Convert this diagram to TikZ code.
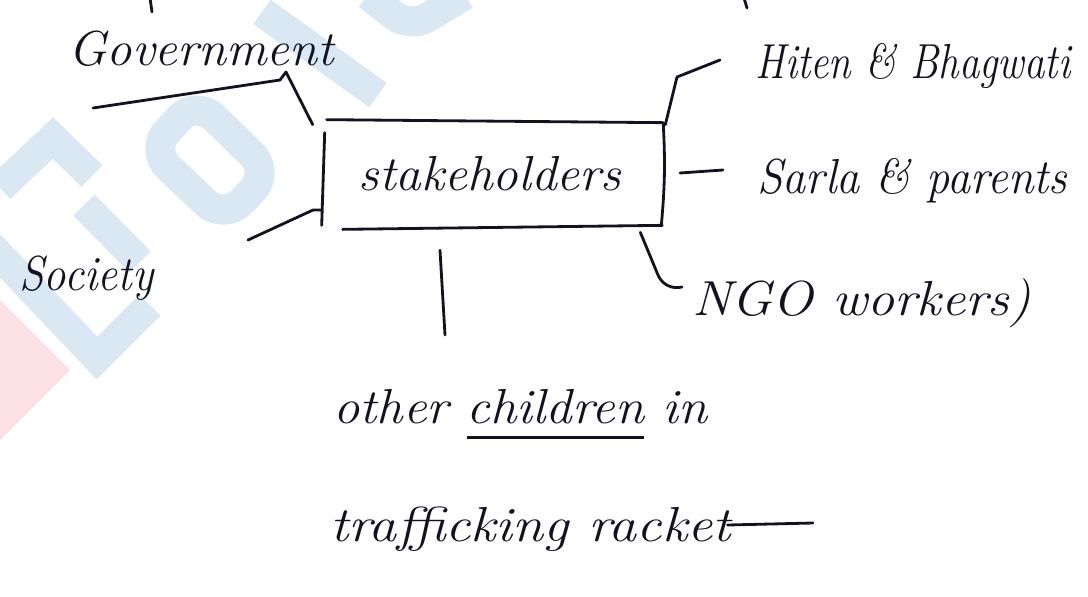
\documentclass[tikz,border=0pt]{standalone}
\usepackage{tikz}
\usetikzlibrary{positioning}
\tikzset{>=latex}
\definecolor{ink}{RGB}{18,18,32}
\definecolor{wmblue}{RGB}{218,232,244}
\definecolor{wmpink}{RGB}{251,224,228}
\newcommand{\squeeze}[2]{\scalebox{#1}[1]{#2}}
\newcommand{\lowline}[1]{\vtop{\hbox{#1}\kern7pt\hrule height 1.6pt}}
\tikzset{
  hand/.style={font=\fontsize{28}{32}\selectfont\itshape, text=ink, inner sep=0pt},
  pen/.style={draw=ink, line width=1.6pt, line cap=round, line join=round},
  wm/.style={draw=wmblue, line width=0.6cm, line cap=butt}
}

\begin{document}
\begin{tikzpicture}[x=0.02cm, y=-0.02cm]
            \useasboundingbox (0,0) rectangle (1088,596);
            % watermark
            \fill[wmpink] (0,300) -- (70,370) -- (0,440) -- cycle;
            \draw[wm, rounded corners=0.5cm] (270,172) -- (224,220) -- (150,150) -- (196,100) -- cycle;
            \draw[wm] (-15,240) -- (97,358) -- (150,305);
            \draw[wm] (0,188) -- (53,138) -- (92,176);
            \draw[wm] (84,205) -- (140,262);
            \draw[wm] (262,12) -- (378,95);
            \draw[wm, rounded corners=0.4cm] (368,-5) -- (410,28) -- (465,-5);
            % labels
            \node[hand, anchor=base west] (gov) at (68,65) {\squeeze{1.03}{Government}};
            \node[hand, anchor=base west] (soc) at (19,290) {\squeeze{0.91}{Society}};
            \node[hand, anchor=base west] (hiten) at (755,78) {\squeeze{0.83}{Hiten \& Bhagwati}};
            \node[hand, anchor=base west] (sarla) at (757,193) {\squeeze{0.94}{Sarla \& parents}};
            \node[hand, anchor=base west] (ngo) at (692,315) {\squeeze{1.1}{NGO workers)}};
            \node[hand, anchor=base west] (oth) at (333,423) {\squeeze{1.07}{other \lowline{children} in}};
            \node[hand, anchor=base west] (traf) at (330,541) {\squeeze{1.14}{trafficking racket}};
            \node[hand, minimum width=6.72cm, minimum height=2.12cm] (stake) at (490,174) {\squeeze{1.04}{stakeholders}};
            % box
            \draw[pen] ([shift={(5,-1)}]stake.north west) -- ([shift={(5,2)}]stake.north east);
            \draw[pen] ([shift={(5,4)}]stake.north east) to[bend left=4] ([shift={(3,-2)}]stake.south east);
            \draw[pen] ([shift={(21,2)}]stake.south west) -- ([shift={(4,-2)}]stake.south east);
            \draw[pen] ([shift={(3,12)}]stake.north west) -- ([shift={(0,-2)}]stake.south west);
            % connectors
            \coordinate (g0) at (93,108);
            \coordinate (g1) at (280,80);
            \coordinate (g2) at (286,72);
            \draw[pen] (g0) -- (g1) -- (g2) -- ([shift={(-9,4)}]stake.north west);
            \coordinate (h1) at (677,77);
            \coordinate (h2) at (720,60);
            \draw[pen] ([shift={(7,4)}]stake.north east) -- (h1) -- (h2);
            \coordinate (s1) at (680,173);
            \coordinate (s2) at (723,170);
            \draw[pen] (s1) -- (s2);
            \coordinate (n1) at (658,275);
            \coordinate (n2) at (682,287);
            \draw[pen] ([shift={(-18,5)}]stake.south east) -- (n1) to[bend right=40] (n2);
            \coordinate (c1) at (248,240);
            \coordinate (c2) at (313,210);
            \draw[pen] (c1) -- (c2) -- ([shift={(0,36)}]stake.west);
            \coordinate (o1) at (445,335);
            \draw[pen] ([shift={(-50,23)}]stake.south) -- (o1);
            % tails
            \coordinate (t1) at (813,523);
            \draw[pen] ([xshift=-2pt]traf.east |- 0,525) -- (t1);
            \coordinate (k1) at (150,-2);
            \coordinate (k2) at (152,12);
            \draw[pen] (k1) -- (k2);
            \coordinate (k3) at (744,-2);
            \coordinate (k4) at (747,8);
            \draw[pen] (k3) -- (k4);
        \end{tikzpicture}
\end{document}
